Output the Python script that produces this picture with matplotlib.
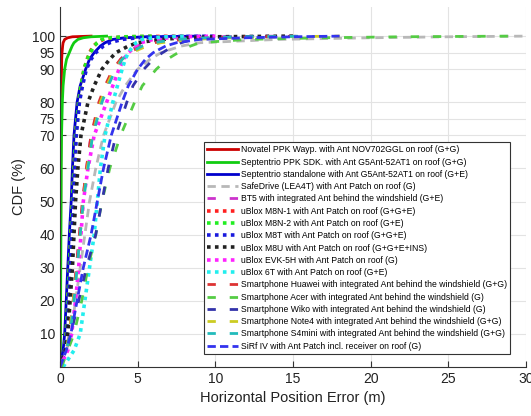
import matplotlib
matplotlib.use("Agg")
import matplotlib.pyplot as plt

plt.rcParams['font.family'] = ['Liberation Sans', 'DejaVu Sans']

# CDF levels (%) shared by all receivers, and the error (m) read at each level
cdf_levels = [0, 5, 10, 20, 30, 40, 50, 60, 70, 80, 85,
              90, 93, 95, 97, 98, 99, 99.5, 99.8, 100]

novatel = [0, 0.01, 0.02, 0.03, 0.03, 0.04, 0.05, 0.05, 0.06, 0.07, 0.08,
           0.1, 0.11, 0.13, 0.17, 0.2, 0.3, 0.5, 0.8, 2.0]
sept_ppk = [0, 0.02, 0.03, 0.04, 0.05, 0.06, 0.07, 0.08, 0.1, 0.15, 0.2,
            0.3, 0.42, 0.6, 0.78, 0.9, 1.15, 1.5, 2.0, 3.0]
sept_sa = [0, 0.2, 0.3, 0.4, 0.5, 0.6, 0.72, 0.8, 0.9, 1.1, 1.3,
           1.65, 1.9, 2.2, 2.6, 2.9, 3.4, 4.2, 5.5, 9.0]
safedrive = [0, 0.4, 0.7, 1.0, 1.3, 1.6, 1.9, 2.3, 2.8, 3.6, 4.2,
             5.0, 5.8, 6.5, 7.8, 9.0, 14, 20, 25, 30]
bt5 = [0, 0.4, 0.6, 0.85, 1.05, 1.25, 1.45, 1.7, 2.0, 2.6, 3.0,
       3.5, 3.9, 4.3, 5.0, 5.5, 6.5, 8.0, 10, 14]
m8n1 = [0, 0.3, 0.4, 0.5, 0.6, 0.7, 0.8, 0.9, 1.0, 1.2, 1.35,
        1.55, 1.75, 1.9, 2.15, 2.4, 2.8, 3.3, 4.5, 8.0]
m8n2 = [0, 0.3, 0.4, 0.5, 0.6, 0.7, 0.8, 0.9, 1.0, 1.2, 1.35,
        1.55, 1.75, 1.95, 2.2, 2.4, 2.7, 3.2, 4.2, 6.0]
m8t = [0, 0.3, 0.45, 0.55, 0.65, 0.75, 0.85, 0.95, 1.05, 1.25, 1.45,
       1.7, 2.0, 2.3, 2.8, 3.2, 4.0, 5.0, 6.5, 10]
m8u = [0, 0.35, 0.5, 0.65, 0.8, 0.9, 1.0, 1.15, 1.35, 1.8, 2.2,
       2.7, 3.2, 3.6, 4.4, 5.0, 6.5, 8.0, 10, 15]
evk5h = [0, 0.5, 0.75, 1.0, 1.2, 1.35, 1.5, 1.8, 2.2, 3.0, 3.4,
         3.8, 4.1, 4.4, 4.9, 5.2, 6.0, 7.0, 8.0, 10]
ublox6t = [0.2, 0.9, 1.3, 1.6, 1.9, 2.2, 2.4, 2.6, 2.9, 3.4, 3.7,
           4.0, 4.2, 4.4, 4.7, 4.9, 5.3, 6.0, 6.8, 8.0]
huawei = [0, 0.4, 0.6, 0.85, 1.05, 1.25, 1.45, 1.7, 2.0, 2.5, 2.9,
          3.4, 3.9, 4.4, 5.3, 6.0, 8.0, 10, 12, 16]
acer = [0.1, 0.5, 0.9, 1.4, 1.8, 2.3, 2.7, 3.2, 3.9, 4.8, 5.3,
        6.2, 6.9, 7.6, 8.4, 9.0, 12, 17, 22, 29]
wiko = [0, 0.4, 0.7, 1.2, 1.7, 2.3, 2.7, 3.1, 3.6, 4.3, 4.7,
        5.4, 6.0, 6.6, 7.3, 7.8, 8.5, 10, 11, 13]
note4 = [0, 0.4, 0.6, 0.85, 1.1, 1.3, 1.5, 1.75, 2.1, 2.6, 3.0,
         3.5, 4.0, 4.6, 5.6, 6.5, 8.5, 11, 14, 18]
s4mini = [0, 0.4, 0.65, 0.9, 1.1, 1.3, 1.5, 1.8, 2.1, 2.7, 3.1,
          3.6, 4.0, 4.5, 5.3, 6.0, 7.5, 9.5, 12, 16]
sirf = [0, 0.4, 0.7, 1.1, 1.5, 2.0, 2.4, 2.8, 3.3, 4.0, 4.4,
        5.0, 5.5, 6.0, 6.8, 7.5, 9.0, 12, 15, 18]

labels = [
    'Novatel PPK Wayp. with Ant NOV702GGL on roof (G+G)',
    'Septentrio PPK SDK. with Ant G5Ant-52AT1 on roof (G+G)',
    'Septentrio standalone with Ant G5Ant-52AT1 on roof (G+E)',
    'SafeDrive (LEA4T) with Ant Patch on roof (G)',
    'BT5 with integrated Ant behind the windshield (G+E)',
    'uBlox M8N-1 with Ant Patch on roof (G+G+E)',
    'uBlox M8N-2 with Ant Patch on roof (G+E)',
    'uBlox M8T with Ant Patch on roof (G+G+E)',
    'uBlox M8U with Ant Patch on roof (G+G+E+INS)',
    'uBlox EVK-5H with Ant Patch on roof (G)',
    'uBlox 6T with Ant Patch on roof (G+E)',
    'Smartphone Huawei with integrated Ant behind the windshield (G+G)',
    'Smartphone Acer with integrated Ant behind the windshield (G)',
    'Smartphone Wiko with integrated Ant behind the windshield (G)',
    'Smartphone Note4 with integrated Ant behind the windshield (G+G)',
    'Smartphone S4mini with integrated Ant behind the windshield (G+G)',
    'SiRf IV with Ant Patch incl. receiver on roof (G)',
]
series = [novatel, sept_ppk, sept_sa, safedrive, bt5, m8n1, m8n2, m8t, m8u,
          evk5h, ublox6t, huawei, acer, wiko, note4, s4mini, sirf]

solid = dict(ls='-', lw=2.0)
dotted = dict(ls=(0, (1, 1.2)), lw=2.6)
wide_dash = dict(ls=(0, (3, 5)), lw=2.0)
styles = [
    dict(color='#cc0000', **solid),
    dict(color='#11cc11', **solid),
    dict(color='#0000cc', **solid),
    dict(color='#b8b8b8', ls=(0, (3, 2)), lw=2.0),
    dict(color='#cc33cc', **wide_dash),
    dict(color='#ff2020', **dotted),
    dict(color='#22ee22', **dotted),
    dict(color='#1a1add', **dotted),
    dict(color='#222222', **dotted),
    dict(color='#ff22ff', **dotted),
    dict(color='#22eeee', **dotted),
    dict(color='#dd3333', **wide_dash),
    dict(color='#55cc44', **wide_dash),
    dict(color='#3333aa', **wide_dash),
    dict(color='#cccc22', **wide_dash),
    dict(color='#22bbbb', **wide_dash),
    dict(color='#3333ee', ls=(0, (3, 1.5)), lw=2.0),
]

fig = plt.figure(figsize=(5.31, 4.16), dpi=100)
ax = fig.add_axes([60 / 531, 49 / 416, 466 / 531, 360 / 416])

for xs, lab, st in zip(series, labels, styles):
    ax.plot(xs, cdf_levels, label=lab, **st)

ax.set_xlim(0, 30)
ax.set_ylim(0, 108.8)
ax.set_xticks([0, 5, 10, 15, 20, 25, 30])
ax.set_yticks([10, 20, 30, 40, 50, 60, 70, 75, 80, 90, 95, 100])
ax.grid(True, color='#e3e3e3', lw=0.8)
ax.set_axisbelow(True)
for s in ['top', 'right']:
    ax.spines[s].set_visible(False)
for s in ['left', 'bottom']:
    ax.spines[s].set_color('#333333')
    ax.spines[s].set_linewidth(0.8)
ax.tick_params(direction='in', length=4, width=0.8, colors='#333333',
               labelsize=10, labelcolor='#222222')
ax.set_xlabel('Horizontal Position Error (m)', fontsize=10.5, color='#222222', labelpad=4)
ax.set_ylabel('CDF (%)', fontsize=10.5, color='#222222', labelpad=4)

leg = ax.legend(loc='lower right', bbox_to_anchor=(0.975, 0.025), fontsize=6.2,
                handlelength=3.6, handletextpad=0.3, labelspacing=0.38,
                borderpad=0.35, fancybox=False, framealpha=1, edgecolor='#333333')
leg.get_frame().set_linewidth(0.8)

fig.savefig('out.png', dpi=100)
